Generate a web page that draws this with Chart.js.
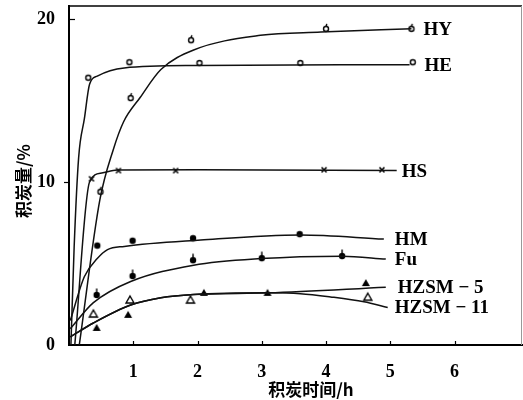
<!DOCTYPE html>
<html>
<head>
<meta charset="utf-8">
<script src="https://cdn.jsdelivr.net/npm/chart.js@4"></script>
<style>
  html, body { margin: 0; padding: 0; background: #fff; }
  #wrap { width: 523px; height: 400px; position: relative; }
</style>
</head>
<body>
<div id="wrap"><canvas id="canvas" width="523" height="400"></canvas></div>
<script>
// measured points (time h, coke %)
const hyTime = [0.49, 0.96, 1.9, 4.0, 5.33];
const hyCoke = [9.4, 15.15, 18.7, 19.4, 19.4];
const heTime = [0.30, 0.94, 2.03, 3.6, 5.35];
const heCoke = [16.4, 17.35, 17.3, 17.3, 17.35];
const hsTime = [0.35, 0.77, 1.66, 3.97, 4.87];
const hsCoke = [10.2, 10.7, 10.7, 10.75, 10.75];
const hmTime = [0.44, 0.99, 1.93, 3.59];
const hmCoke = [6.1, 6.4, 6.55, 6.8];
const fuTime = [0.43, 0.99, 1.93, 3.0, 4.25];
const fuCoke = [3.07, 4.23, 5.2, 5.33, 5.46];
const z5Time = [0.43, 0.92, 2.1, 3.09, 4.62];
const z5Coke = [1.05, 1.85, 3.2, 3.2, 3.8];
const z11Time = [0.38, 0.95, 1.89, 4.65];
const z11Coke = [1.9, 2.76, 2.76, 2.93];

// fitted curves
const hyCurveT = [0.16, 0.48, 0.69, 0.85, 1.11, 1.43, 1.94, 2.98, 3.92, 5.33];
const hyCurveC = [0, 8.9, 12, 13.7, 15.2, 16.9, 18.1, 19.0, 19.2, 19.4];
const heCurveT = [0.03, 0.08, 0.15, 0.24, 0.32, 0.44, 0.86, 2.0, 5.3];
const heCurveC = [0, 6, 11.5, 13.9, 16.0, 16.5, 17.0, 17.15, 17.2];
const hsCurveT = [0.09, 0.32, 0.51, 0.75, 2.0, 5.1];
const hsCurveC = [0, 10.0, 10.55, 10.74, 10.75, 10.7];
const hmCurveT = [0.02, 0.24, 0.44, 0.6, 0.86, 2.05, 3.6, 4.9];
const hmCurveC = [1.5, 4.2, 5.3, 5.85, 6.05, 6.44, 6.75, 6.5];
const fuCurveT = [0.02, 0.38, 0.96, 1.94, 2.98, 4.25, 4.93];
const fuCurveC = [1.0, 2.6, 3.9, 4.9, 5.3, 5.45, 5.27];
const z5CurveT = [0.02, 0.38, 0.96, 1.43, 1.94, 3.1, 4.93];
const z5CurveC = [0.5, 1.35, 2.45, 2.9, 3.1, 3.2, 3.55];
const z11CurveT = [0.02, 0.38, 0.96, 1.43, 1.94, 3.1, 3.6, 4.07, 4.59, 4.96];
const z11CurveC = [0.5, 1.35, 2.45, 2.9, 3.1, 3.2, 3.15, 2.95, 2.65, 2.3];

const seriesNames = ['HY', 'HE', 'HS', 'HM', 'Fu', 'HZSM − 5', 'HZSM − 11'];
const xTicks = [1, 2, 3, 4, 5, 6];
const yTicks = [0, 10, 20];

const pts = (xs, ys) => xs.map((x, i) => ({ x: x, y: ys[i] }));

// little marker images
function marker(kind) {
  const c = document.createElement('canvas');
  c.width = 16; c.height = 16;
  const g = c.getContext('2d');
  g.strokeStyle = '#000'; g.fillStyle = '#000'; g.lineWidth = 1.4;
  if (kind === 'ring' || kind === 'ringStem') {
    g.beginPath(); g.arc(8, 8, 2.5, 0, Math.PI * 2);
    g.fillStyle = '#fff'; g.fill(); g.stroke();
    if (kind === 'ringStem') { g.beginPath(); g.moveTo(8, 5.5); g.lineTo(8.8, 3); g.stroke(); }
  } else if (kind === 'dot' || kind === 'dotStem') {
    g.beginPath(); g.arc(8, 8, 3.2, 0, Math.PI * 2); g.fill();
    if (kind === 'dotStem') { g.beginPath(); g.moveTo(8, 5); g.lineTo(8, 1.5); g.stroke(); }
  } else if (kind === 'cross') {
    g.lineWidth = 1.6;
    g.beginPath(); g.moveTo(5.5, 5.5); g.lineTo(10.5, 10.5); g.moveTo(10.5, 5.5); g.lineTo(5.5, 10.5); g.stroke();
  } else if (kind === 'tri' || kind === 'triOpen') {
    g.beginPath(); g.moveTo(8, 4); g.lineTo(12, 11); g.lineTo(4, 11); g.closePath();
    if (kind === 'tri') g.fill(); else { g.fillStyle = '#fff'; g.fill(); g.stroke(); }
  }
  return c;
}

function curve(xs, ys) {
  return {
    data: pts(xs, ys), showLine: true, pointRadius: 0,
    borderColor: '#111', borderWidth: 1.5,
    cubicInterpolationMode: 'monotone', fill: false
  };
}
function dots(xs, ys, kind) {
  return {
    data: pts(xs, ys), showLine: false,
    pointStyle: marker(kind), pointRadius: 8
  };
}

const curves = [
  [hyCurveT, hyCurveC], [heCurveT, heCurveC], [hsCurveT, hsCurveC],
  [hmCurveT, hmCurveC], [fuCurveT, fuCurveC], [z5CurveT, z5CurveC], [z11CurveT, z11CurveC]
];
const labelGap = [12, 15, 5, 11, 9, 12, 7];

const decor = {
  id: 'decor',
  afterDraw(chart) {
    const ctx = chart.ctx, a = chart.chartArea;
    const xs = chart.scales.x, ys = chart.scales.y;
    ctx.save();
    // frame top and right
    ctx.strokeStyle = '#000'; ctx.lineWidth = 1.5;
    ctx.beginPath(); ctx.moveTo(a.left, a.top); ctx.lineTo(a.right, a.top); ctx.stroke();
    ctx.strokeStyle = '#999'; ctx.lineWidth = 1;
    ctx.beginPath(); ctx.moveTo(a.right - 0.5, a.top); ctx.lineTo(a.right - 0.5, a.bottom); ctx.stroke();
    // small ticks
    ctx.strokeStyle = '#000'; ctx.lineWidth = 1.2;
    xTicks.forEach(v => {
      const px = Math.round(xs.getPixelForValue(v)) + 0.5;
      ctx.beginPath(); ctx.moveTo(px, a.bottom); ctx.lineTo(px, a.bottom - 4); ctx.stroke();
    });
    let py = Math.round(ys.getPixelForValue(20)) + 0.5;
    ctx.beginPath(); ctx.moveTo(a.left, py); ctx.lineTo(a.left + 6, py); ctx.stroke();
    py = Math.round(ys.getPixelForValue(10)) + 0.5;
    ctx.beginPath(); ctx.moveTo(a.left - 5, py); ctx.lineTo(a.left, py); ctx.stroke();
    // series names at curve ends
    ctx.fillStyle = '#000';
    ctx.font = 'bold 19px "Liberation Serif"';
    ctx.textBaseline = 'middle'; ctx.textAlign = 'left';
    curves.forEach((c, i) => {
      const t = c[0][c[0].length - 1], k = c[1][c[1].length - 1];
      ctx.fillText(seriesNames[i], xs.getPixelForValue(t) + labelGap[i], ys.getPixelForValue(k) + 1);
    });
    // axis titles
    ctx.textAlign = 'center';
    ctx.font = 'bold 17px "Noto Sans CJK SC"';
    ctx.fillText('积炭时间/h', a.left + 242, a.bottom + 45);
    ctx.translate(24, a.top + 175);
    ctx.rotate(-Math.PI / 2);
    ctx.fillText('积炭量/%', 0, 0);
    ctx.restore();
  }
};

new Chart(document.getElementById('canvas'), {
  type: 'scatter',
  data: {
    datasets: [
      ...curves.map(c => curve(c[0], c[1])),
      dots(hyTime, hyCoke, 'ringStem'),
      dots(heTime, heCoke, 'ring'),
      dots(hsTime, hsCoke, 'cross'),
      dots(hmTime, hmCoke, 'dot'),
      dots(fuTime, fuCoke, 'dotStem'),
      dots(z5Time, z5Coke, 'tri'),
      dots(z11Time, z11Coke, 'triOpen')
    ]
  },
  options: {
    responsive: false,
    animation: false,
    devicePixelRatio: 1,
    layout: { autoPadding: false, padding: { top: 6, right: 1, left: 0, bottom: 0 } },
    plugins: { legend: { display: false }, tooltip: { enabled: false } },
    scales: {
      x: {
        type: 'linear', min: 0, max: 7.05,
        grid: { display: false },
        border: { display: true, color: '#000', width: 2 },
        afterBuildTicks: s => { s.ticks = xTicks.map(v => ({ value: v })); },
        afterFit: s => { s.height = 55; s.paddingLeft = 0; s.paddingRight = 0; },
        ticks: { color: '#000', padding: 9, font: { family: 'Liberation Serif', size: 18, weight: 'bold' } }
      },
      y: {
        type: 'linear', min: 0, max: 20.8,
        grid: { display: false },
        border: { display: true, color: '#000', width: 2 },
        afterBuildTicks: s => { s.ticks = yTicks.map(v => ({ value: v })); },
        afterFit: s => { s.width = 69; s.paddingTop = 0; s.paddingBottom = 0; },
        ticks: { color: '#000', padding: 6, font: { family: 'Liberation Serif', size: 18, weight: 'bold' } }
      }
    }
  },
  plugins: [decor]
});
</script>
</body>
</html>
